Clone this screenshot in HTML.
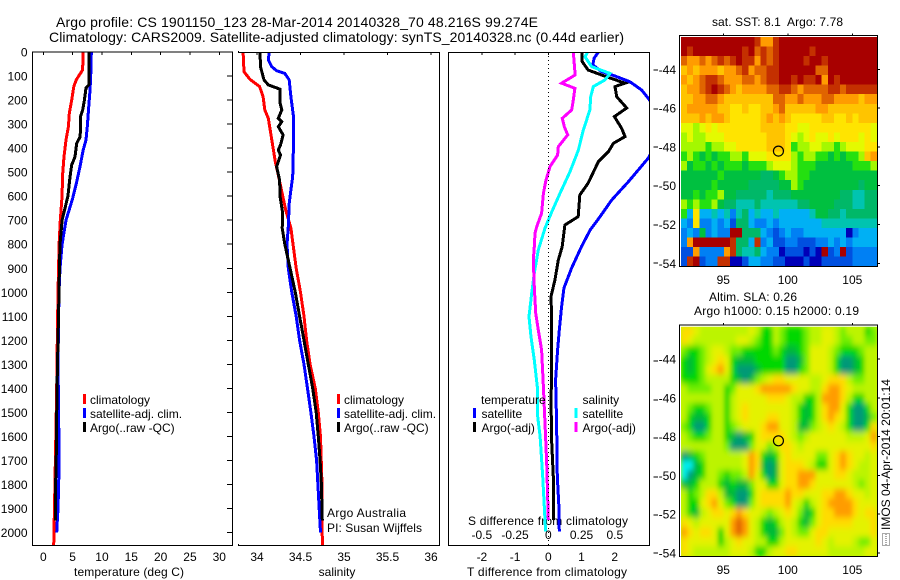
<!DOCTYPE html>
<html>
<head>
<meta charset="utf-8">
<title>Argo profile 1901150_123</title>
<style>
html,body{margin:0;padding:0;background:#fff;}
svg{display:block;}
text{font-family:"Liberation Sans",sans-serif;font-size:12px;fill:#000;white-space:pre;}
.title{font-size:14px;}
</style>
</head>
<body>
<svg id="chart" xmlns="http://www.w3.org/2000/svg" width="900" height="580" viewBox="0 0 900 580">
  <defs>
    <clipPath id="clip-diff"><rect x="448" y="52" width="201.5" height="493"/></clipPath>
    <clipPath id="clip-map2"><rect x="681" y="326.7" width="196.5" height="230"/></clipPath>
    <filter id="sla-smooth" x="-5%" y="-5%" width="110%" height="110%"><feGaussianBlur stdDeviation="2.4 3.2"/></filter>
  </defs>
  <text class="title" x="56" y="27" textLength="482" lengthAdjust="spacing">Argo profile: CS 1901150_123 28-Mar-2014 20140328_70 48.216S 99.274E</text>
  <text class="title" x="49" y="42" textLength="575" lengthAdjust="spacing">Climatology: CARS2009. Satellite-adjusted climatology: synTS_20140328.nc (0.44d earlier)</text>
  <text x="129" y="576" text-anchor="middle" textLength="110">temperature (deg C)</text>
  <text x="337" y="576" text-anchor="middle">salinity</text>
  <text x="467" y="576" textLength="160">T difference from climatology</text>
  <text x="468" y="525" textLength="160">S difference from climatology</text>
  <text x="327" y="517" textLength="79">Argo Australia</text>
  <text x="327" y="532" textLength="95">PI: Susan Wijffels</text>
  <text x="712" y="26" textLength="131">sat. SST: 8.1  Argo: 7.78</text>
  <text x="709" y="301" textLength="88">Altim. SLA: 0.26</text>
  <text x="694" y="315" textLength="165">Argo h1000: 0.15 h2000: 0.19</text>
  <text x="0" y="0" transform="translate(890,530) rotate(-90)" textLength="151">IMOS 04-Apr-2014 20:01:14</text>
  <rect x="882.5" y="533.5" width="7" height="12" fill="none" stroke="#555" stroke-width="1" stroke-dasharray="1 1" shape-rendering="crispEdges"/>
  <line x1="886" y1="534" x2="886" y2="545" stroke="#555" stroke-width="1" stroke-dasharray="1 1" shape-rendering="crispEdges"/>
  <g id="layer"></g>
</svg>
<script>
// ---------- profile data (depth in dbar) ----------
const depthTicks = [0,100,200,300,400,500,600,700,800,900,1000,1100,1200,1300,1400,1500,1600,1700,1800,1900,2000];
const tempTicks = [0,5,10,15,20,25,30];
const salTicks = [34,34.5,35,35.5,36];
const salTickLabels = ['34','34.5','35','35.5','36'];
const tDiffTicks = [-2,-1,0,1,2];
const sDiffTicks = [-0.5,-0.25,0,0.25,0.5];
const sDiffTickLabels = ['-0.5','-0.25','0','0.25','0.5'];

const climTempDepth = [0,75,116,144,200,255,311,366,436,505,602,700,800,1000,1200,1400,1650,1850,2052];
const climTemp = [6.8,6.7,5.6,5.2,4.84,4.43,4.27,3.87,3.53,3.3,3.19,2.9,2.7,2.5,2.38,2.28,2.1,1.94,1.77];
const satTempDepth = [0,60,160,229,311,366,408,477,540,610,700,800,900,1000,1100,1300,1400,1650,1725,1900,1950,2000];
const satTemp = [8.18,8.15,7.96,7.73,7.5,7.28,6.8,6.26,5.69,5.0,3.87,3.2,2.85,2.68,2.6,2.5,2.56,2.68,2.7,2.5,2.39,2.28];
const argoTempDepth = [0,137,150,200,243,270,319,354,380,436,470,520,600,700,800,900,1000,1400,1700,1800,1950];
const argoTemp = [7.8,7.75,7.28,7.0,6.7,6.3,6.36,6.26,5.7,5.4,4.84,4.55,4.2,3.2,2.85,2.75,2.68,2.33,2.2,2.1,2.07];

const climSalDepth = [0,82,114,144,186,241,276,366,456,512,574,657,733,900,1000,1100,1200,1300,1400,1500,1600,1800,2052];
const climSal = [33.84,33.85,33.92,34.03,34.07,34.09,34.13,34.17,34.21,34.245,34.28,34.33,34.39,34.45,34.5,34.54,34.57,34.61,34.67,34.705,34.73,34.747,34.75];
const satSalDepth = [0,33,61,78,89,116,186,269,380,519,574,630,727,800,900,1000,1100,1200,1300,1400,1500,1600,1700,1800,1900,2000];
const satSal = [34.14,34.13,34.17,34.225,34.32,34.37,34.39,34.42,34.42,34.41,34.39,34.37,34.36,34.345,34.36,34.4,34.45,34.49,34.54,34.58,34.62,34.655,34.685,34.7,34.715,34.73];
const argoSalDepth = [0,61,116,137,155,213,241,276,290,311,345,387,408,429,477,533,602,671,733,800,900,1000,1100,1200,1300,1400,1500,1600,1700,1800,1950];
const argoSal = [34.035,34.04,34.08,34.13,34.265,34.265,34.285,34.245,34.285,34.245,34.3,34.27,34.245,34.27,34.225,34.26,34.265,34.295,34.29,34.32,34.38,34.44,34.49,34.54,34.59,34.64,34.68,34.705,34.725,34.74,34.75];

const satDiffTDepth = [0,26,54,82,100,124,158,196,250,350,420,442,540,616,685,741,810,900,983,1060,1157,1240,1365,1545,1767,1892,1996];
const satDiffT = [1.51,1.38,1.34,1.61,2.01,2.46,2.81,3.03,3.3,3.3,3.1,3.01,2.41,1.91,1.56,1.26,1.0,0.7,0.47,0.4,0.33,0.28,0.22,0.25,0.27,0.32,0.33];
const argoDiffTDepth = [0,40,75,96,130,144,186,233,269,318,352,380,415,456,546,595,685,720,810,866,949,1018,1101,1365,1434,1615,1767,1947];
const argoDiffT = [1.02,1.02,1.2,1.61,2.31,2.01,2.06,2.36,1.99,2.21,2.31,1.96,1.81,1.51,1.2,0.95,0.9,0.5,0.42,0.3,0.2,0.08,0.1,0.1,0.08,0.1,0.15,0.15];
const satDiffSDepth = [0,20,61,89,116,144,186,241,325,408,498,588,665,733,755,824,920,1004,1101,1185,1282,1393,1504,1600,1767,1892,1996];
const satDiffS = [0.296,0.276,0.326,0.464,0.426,0.338,0.319,0.313,0.263,0.226,0.163,0.088,0.026,-0.025,-0.037,-0.075,-0.105,-0.125,-0.145,-0.13,-0.105,-0.083,-0.083,-0.062,-0.042,-0.03,-0.02];
const argoDiffSDepth = [0,82,96,130,151,200,241,276,311,345,394,429,477,533,588,671,727,755,810,866,977,1087,1157,1240,1393,1545,1712,1947];
const argoDiffS = [0.188,0.2,0.2,0.1,0.2,0.188,0.176,0.105,0.12,0.146,0.075,0.07,0.013,-0.017,-0.037,-0.05,-0.087,-0.1,-0.105,-0.113,-0.105,-0.095,-0.075,-0.05,-0.037,-0.025,-0.012,0];

// ---------- satellite map data (colour level per grid cell) ----------
const mapLonTicks = [95,100,105];
const mapLatTicks = [-44,-46,-48,-50,-52,-54];
const floatLon = 99.274;
const floatLat = -48.216;
const sstPalette = ['#a80000','#c43000','#e06400','#ff9c00','#ffc400','#ffe400','#e4fa00','#a4f800','#24e010','#00c040','#00b868','#00c4b0','#00b0f4','#0080f4','#0050e0','#0000b8'];
const sstLevels = [
[0,0,0,0,0,0,0,0,0,0,0,0,1,3,3,1,0,0,0,0,0,0,0,0,0,0,0,0,0,0,0,0],
[0,1,0,0,0,0,0,0,0,0,1,0,2,1,2,1,0,0,0,0,0,1,0,0,0,0,0,0,0,0,0,0],
[2,3,3,2,3,2,1,2,1,0,1,1,3,1,2,1,0,0,0,0,1,0,0,1,0,0,0,0,0,0,0,0],
[4,3,4,3,3,3,4,3,3,2,1,3,2,2,1,1,0,0,0,0,0,0,2,2,0,0,0,0,0,0,0,0],
[3,4,3,2,1,1,2,3,3,3,2,2,3,2,1,1,0,0,1,0,1,1,0,3,0,1,0,0,0,0,0,0],
[4,3,3,2,1,0,1,2,3,4,3,3,3,3,2,2,1,1,2,3,2,2,2,2,1,1,2,1,1,1,1,1],
[4,4,3,3,2,2,3,4,4,4,4,4,4,4,4,2,2,3,3,2,3,3,3,2,2,3,3,3,3,4,3,3],
[4,3,3,3,3,3,4,4,5,5,4,5,5,4,4,3,2,4,4,4,4,4,3,3,4,4,4,4,4,4,4,4],
[4,4,4,3,4,3,3,4,5,5,5,5,5,4,3,4,3,4,5,5,5,5,5,4,4,5,5,4,5,4,4,4],
[6,6,7,6,5,6,5,5,5,5,5,5,5,4,4,4,4,5,5,6,6,5,5,5,5,5,5,5,5,5,5,6],
[7,6,7,7,6,6,6,5,5,5,5,5,5,5,4,4,4,5,6,7,6,5,6,6,5,6,5,5,5,6,5,6],
[7,7,7,7,8,7,7,6,6,5,5,5,5,5,4,4,4,5,8,7,7,6,6,7,7,8,7,6,6,6,5,5],
[8,7,8,9,8,9,8,8,7,7,8,6,6,6,5,5,5,5,7,8,7,7,8,8,9,8,9,8,8,7,4,3],
[7,9,8,8,9,8,9,8,8,8,9,8,8,8,7,6,6,6,7,8,8,8,9,9,9,9,9,9,8,8,8,7],
[9,9,9,9,9,9,8,9,9,9,9,9,9,10,10,9,8,7,7,8,8,9,9,9,9,9,9,9,9,9,9,9],
[9,9,9,9,9,8,9,9,9,9,9,10,10,10,10,10,9,9,7,8,9,9,9,9,9,9,9,9,9,10,9,9],
[9,9,8,9,8,8,7,9,9,10,10,10,10,10,11,10,10,10,9,9,9,9,9,9,9,9,10,10,11,11,10,10],
[7,8,7,8,8,7,9,10,10,11,11,11,10,11,11,11,11,11,11,10,10,9,9,9,9,10,10,10,11,11,10,10],
[8,12,5,12,12,11,12,11,13,11,10,12,11,12,12,11,12,12,12,12,12,11,9,9,10,10,11,10,10,10,10,10],
[12,13,5,13,13,12,13,12,14,10,10,12,13,13,12,13,12,12,12,12,12,12,12,11,11,11,11,11,11,11,11,11],
[13,12,13,9,13,12,13,13,0,0,10,10,10,12,13,14,13,12,13,13,12,12,12,12,12,12,12,15,13,12,12,12],
[13,3,0,0,0,0,0,0,1,10,10,12,1,13,12,14,14,13,13,14,14,14,13,13,12,13,12,13,12,12,12,12],
[14,14,3,13,13,13,13,3,1,10,11,11,10,12,13,13,15,14,14,14,15,14,15,0,14,13,0,14,13,13,13,13],
[14,1,0,14,13,13,1,1,15,15,14,12,12,13,13,14,14,15,15,15,14,15,15,14,14,14,14,14,13,13,13,13]
];
const slaPalette = ['#00f0f0','#009878','#00b838','#00d800','#70ee00','#bcf400','#e4f200','#ffdc00','#ff9c00','#e06000'];
const slaLevels = [
[7,7,6,5,5,5,5,5,5,5,5,6,5,3,3,5,4,3,3,3,4,5,5,6,6,5,4,5,5,5,3,4],
[7,6,5,5,5,5,5,5,5,6,6,5,4,3,3,5,4,3,3,3,4,5,5,6,6,5,4,4,5,5,4,4],
[4,3,3,4,5,6,6,5,4,4,3,3,3,3,3,4,3,2,2,3,4,6,6,6,5,4,3,3,3,4,5,5],
[3,2,3,4,5,6,7,6,3,2,2,2,3,3,3,3,3,1,1,2,4,6,6,6,5,3,1,1,2,3,5,5],
[3,2,3,4,6,7,8,6,3,1,1,1,2,3,3,3,3,1,1,3,4,6,6,6,5,3,1,1,2,3,5,5],
[3,3,3,4,5,5,5,5,3,2,1,2,4,5,6,7,7,6,6,6,6,5,5,6,7,7,7,5,4,4,5,5],
[5,4,4,4,4,5,5,3,4,6,6,6,7,8,8,8,8,8,7,6,6,5,5,7,8,8,7,6,5,5,5,5],
[5,5,5,5,5,5,5,3,5,6,6,6,6,6,7,7,7,6,5,5,3,3,5,8,8,8,7,5,3,3,5,5],
[5,4,3,3,4,5,5,3,5,6,7,6,6,6,6,6,6,6,5,3,2,3,5,7,8,8,6,3,1,1,3,5],
[5,3,2,2,3,5,5,3,5,6,7,6,6,6,7,7,6,6,5,3,2,3,5,7,8,7,6,3,1,1,2,4],
[4,3,1,1,3,5,5,3,4,5,6,6,6,7,8,8,6,6,5,2,2,4,5,6,7,6,5,3,1,1,3,7],
[5,4,3,3,4,5,5,3,2,1,2,3,6,7,7,7,7,6,5,4,5,6,6,6,6,6,6,5,5,5,6,8],
[5,5,5,5,5,5,5,4,1,1,1,4,6,6,4,5,7,7,6,5,6,6,6,6,6,6,6,6,6,6,6,7],
[1,2,3,4,5,5,5,5,5,5,6,8,7,3,2,3,6,7,6,6,6,6,4,4,6,7,8,7,6,6,5,6],
[0,0,2,3,5,5,5,5,5,5,6,8,7,2,1,2,6,7,7,7,6,5,3,3,6,7,8,7,6,5,5,6],
[0,1,2,3,5,5,4,3,4,4,5,8,6,3,1,2,6,7,7,8,8,8,6,6,6,7,7,6,5,5,5,6],
[2,2,3,5,5,5,3,2,3,2,2,4,6,6,3,3,6,7,7,8,8,7,6,6,6,6,6,6,5,4,5,6],
[5,3,4,5,7,7,5,2,2,1,1,3,6,7,7,7,7,8,7,7,6,6,6,7,7,8,8,7,6,6,5,6],
[5,3,3,6,7,8,6,4,3,1,1,4,6,7,7,7,7,8,6,5,3,5,6,7,8,8,8,8,7,6,6,6],
[5,3,2,5,6,7,7,6,7,8,7,6,6,5,4,5,6,7,6,4,2,3,6,7,7,8,8,8,7,6,7,7],
[7,6,5,6,6,6,6,6,8,9,8,6,5,3,2,3,5,6,5,3,2,4,6,7,7,7,7,7,6,6,6,7],
[8,7,6,7,7,6,3,6,8,9,8,6,5,3,2,2,4,6,5,4,4,6,7,7,6,6,6,6,6,6,6,7],
[7,6,6,6,6,6,3,5,6,7,6,6,5,5,3,3,5,6,6,6,6,6,7,6,5,6,6,6,5,4,4,6],
[7,6,5,5,5,5,5,5,6,6,6,5,3,3,5,6,6,7,7,6,6,6,6,6,5,5,5,5,5,5,6,6]
];
const outerDashDepthMarks = [70,109,147,186,225,263,361,400,438,477,515,553];

// ---------- axis functions ----------
const SVGNS = 'http://www.w3.org/2000/svg';
const layer = document.getElementById('layer');
const yDepth = d => 52 + d * 0.2403;
const xTemp = v => 43.3 + v * 5.867;
const xSal = v => 257 + (v - 34) * 87;
const xDiffT = v => 548.3 + v * 33.2;
const xDiffS = v => 548.3 + v * 133;
const xLon = lon => 723.3 + (lon - 95) * 12.9;
const yLat1 = lat => 69.3 + (-44 - lat) * 19.4;
const yLat2 = lat => yLat1(lat) + 289.7;
const gridLon0 = 91.72, gridDLon = 0.4744, gridLat0 = -42.33, gridDLat = -0.4925;

function make(tag, attrs, parent) {
  const el = document.createElementNS(SVGNS, tag);
  for (const k in attrs) el.setAttribute(k, attrs[k]);
  (parent || layer).appendChild(el);
  return el;
}
function crisp(x1, y1, x2, y2, parent) {
  return make('line', {x1, y1, x2, y2, stroke:'#000', 'stroke-width':1, 'shape-rendering':'crispEdges'}, parent);
}
function label(str, x, y, anchor, parent) {
  const el = make('text', {x, y, 'text-anchor':anchor || 'middle'}, parent);
  el.textContent = str;
  return el;
}
function drawProfile(depths, values, xFn, color, name, parent) {
  const pts = depths.map((d, i) => xFn(values[i]).toFixed(1) + ',' + yDepth(d).toFixed(1)).join(' ');
  const el = make('polyline', {points:pts, fill:'none', stroke:color, 'stroke-width':3, 'shape-rendering':'crispEdges', 'stroke-linejoin':'miter'}, parent);
  
  
  return el;
}
function legendEntry(mx, tx, y, color, str, name) {
  if (color) {
    const m = make('rect', {x:mx, y:y - 10, width:3, height:10, fill:color, 'shape-rendering':'crispEdges'});
    
    
  }
  const t = label(str, tx, y, 'start');
  
  
}

// ---------- temperature panel ----------
drawProfile(climTempDepth, climTemp, xTemp, '#ff0000', 'temperature-climatology-line');
drawProfile(satTempDepth, satTemp, xTemp, '#0000ff', 'temperature-satellite-line');
drawProfile(argoTempDepth, argoTemp, xTemp, '#000000', 'temperature-argo-line');
const f1 = make('path', {d:'M32.5 52H232.5V545.5H32.5Z', fill:'none', stroke:'#000', 'stroke-width':1, 'shape-rendering':'crispEdges'});


depthTicks.forEach(d => {
  const y = yDepth(d);
  const t = crisp(227, y, 232, y);
  
  
  const l = label(String(d), 27.5, y + 4.5, 'end');
  
  
});
tempTicks.forEach(v => {
  const x = xTemp(v);
  const t = crisp(x, 52, x, 55);
  
  
  const l = label(String(v), x, 561);
  
  
});
legendEntry(83, 90, 404, '#ff0000', 'climatology', 'temperature-legend-climatology');
legendEntry(83, 90, 418, '#0000ff', 'satellite-adj. clim.', 'temperature-legend-satellite');
legendEntry(83, 90, 432, '#000000', 'Argo(..raw -QC)', 'temperature-legend-argo');

// ---------- salinity panel ----------
drawProfile(climSalDepth, climSal, xSal, '#ff0000', 'salinity-climatology-line');
drawProfile(satSalDepth, satSal, xSal, '#0000ff', 'salinity-satellite-line');
drawProfile(argoSalDepth, argoSal, xSal, '#000000', 'salinity-argo-line');
const f2 = make('path', {d:'M239 52.5H439.5V545.5H239', fill:'none', stroke:'#000', 'stroke-width':1, 'shape-rendering':'crispEdges'});


crisp(238.5, 51, 238.5, 53);
crisp(238.5, 544, 238.5, 546);
salTicks.forEach((v, i) => {
  const x = xSal(v);
  const t = crisp(x, 52, x, 55);
  
  
  const l = label(salTickLabels[i], x, 561);
  
  
});
legendEntry(337, 344, 404, '#ff0000', 'climatology', 'salinity-legend-climatology');
legendEntry(337, 344, 418, '#0000ff', 'satellite-adj. clim.', 'salinity-legend-satellite');
legendEntry(337, 344, 432, '#000000', 'Argo(..raw -QC)', 'salinity-legend-argo');

// ---------- difference panel ----------
const diffGroup = make('g', {'clip-path':'url(#clip-diff)'});


drawProfile(satDiffTDepth, satDiffT, xDiffT, '#0000ff', 'difference-temperature-satellite-line', diffGroup);
drawProfile(argoDiffTDepth, argoDiffT, xDiffT, '#000000', 'difference-temperature-argo-line', diffGroup);
drawProfile(satDiffSDepth, satDiffS, xDiffS, '#00ffff', 'difference-salinity-satellite-line', diffGroup);
drawProfile(argoDiffSDepth, argoDiffS, xDiffS, '#ff00ff', 'difference-salinity-argo-line', diffGroup);
const zero = make('line', {x1:xDiffT(0), y1:52, x2:xDiffT(0), y2:545, stroke:'#000', 'stroke-width':1, 'stroke-dasharray':'1 3', 'shape-rendering':'crispEdges'});


const f3 = make('path', {d:'M448.5 52.5H649.5V545.5H448.5Z', fill:'none', stroke:'#000', 'stroke-width':1, 'shape-rendering':'crispEdges'});


tDiffTicks.forEach(v => {
  const x = xDiffT(v);
  const t = crisp(x, 52, x, 55);
  
  
  const l = label(String(v), x, 561);
  
  
});
sDiffTicks.forEach((v, i) => {
  const l = label(sDiffTickLabels[i], xDiffS(v), 539);
  
  
});
outerDashDepthMarks.forEach(y => {
  const t = crisp(653.5, y, 658, y);
  
  
});
legendEntry(0, 481, 404, null, 'temperature', 'difference-legend-temperature');
legendEntry(473, 481.5, 418, '#0000ff', 'satellite', 'difference-legend-temperature-satellite');
legendEntry(473, 481.5, 432, '#000000', 'Argo(-adj)', 'difference-legend-temperature-argo');
legendEntry(0, 582.5, 404, null, 'salinity', 'difference-legend-salinity');
legendEntry(574.5, 582.5, 418, '#00ffff', 'satellite', 'difference-legend-salinity-satellite');
legendEntry(574.5, 582.5, 432, '#ff00ff', 'Argo(-adj)', 'difference-legend-salinity-argo');

// ---------- map panels ----------
function drawCells(levels, palette, yFn, parent, cellName) {
  levels.forEach((row, r) => row.forEach((lv, c) => {
    const x0 = xLon(gridLon0 + c * gridDLon), x1 = xLon(gridLon0 + (c + 1) * gridDLon);
    const y0 = yFn(gridLat0 + r * gridDLat), y1 = yFn(gridLat0 + (r + 1) * gridDLat);
    const cell = make('rect', {x:x0.toFixed(2), y:y0.toFixed(2), width:(x1 - x0 + 0.4).toFixed(2), height:(y1 - y0 + 0.4).toFixed(2), fill:palette[lv], 'shape-rendering':'crispEdges'}, parent);
    
    
  }));
}
function drawMapFurniture(yFn, top, bottom, labelY, prefix) {
  const frame = make('path', {d:'M679.5 ' + top + 'H877.5V' + bottom + 'H679.5Z', fill:'none', stroke:'#000', 'stroke-width':1, 'shape-rendering':'crispEdges'});
  
  
  mapLonTicks.forEach(lon => {
    const x = xLon(lon);
    const t = crisp(x, top - 2, x, top);
    
    
    const l = label(String(lon), x, labelY);
    
    
  });
  mapLatTicks.forEach(lat => {
    const y = yFn(lat);
    const t = crisp(877.5, y, 880, y);
    
    
    const l = label(String(lat), 676, y + 4.5, 'end');
    
    
  });
  const marker = make('circle', {cx:xLon(floatLon), cy:yFn(floatLat), r:5, fill:'none', stroke:'#000', 'stroke-width':1.2});
  
  
}
const sstGroup = make('g', {});


drawCells(sstLevels, sstPalette, yLat1, sstGroup, 'sst-cell');
drawMapFurniture(yLat1, 35.5, 266.5, 284, 'sst');

const slaClip = make('g', {'clip-path':'url(#clip-map2)'});


make('rect', {x:681, y:326.7, width:197, height:231, fill:'#c8f400'}, slaClip);
const slaGroup = make('g', {filter:'url(#sla-smooth)'}, slaClip);
drawCells(slaLevels, slaPalette, yLat2, slaGroup, 'sla-cell');
drawMapFurniture(yLat2, 325, 556.5, 574, 'sla');
</script>
</body>
</html>
